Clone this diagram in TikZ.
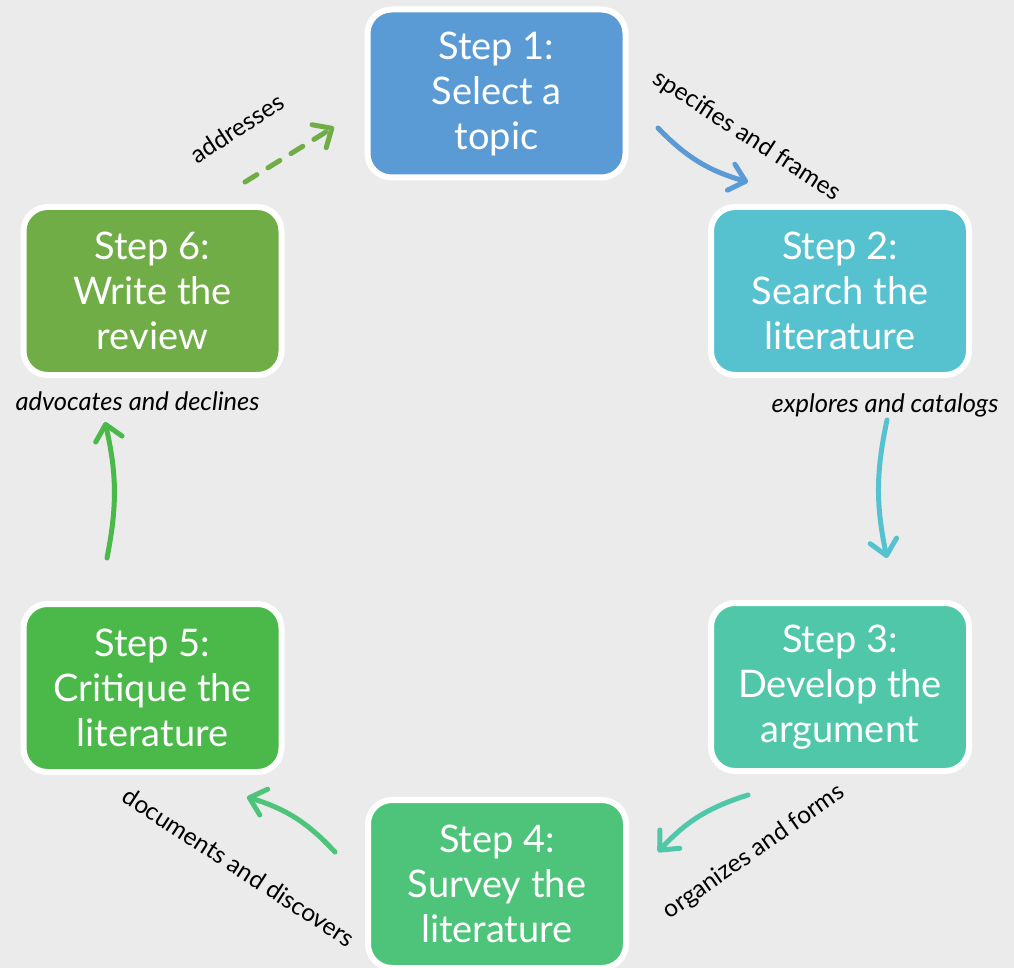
\documentclass[tikz,border=0pt]{standalone}
\usepackage{fontspec}
\setmainfont{Lato}
\usetikzlibrary{arrows.meta}
\definecolor{bg}{HTML}{EBEBEB}
\definecolor{cA}{HTML}{5B9BD5}
\definecolor{cB}{HTML}{56C2CF}
\definecolor{cC}{HTML}{51C7A9}
\definecolor{cD}{HTML}{4DC47A}
\definecolor{cE}{HTML}{4BB94A}
\definecolor{cF}{HTML}{70AD47}
\begin{document}
\begin{tikzpicture}[x=1pt,y=-1pt,
 stepbox/.style={draw=white, line width=6pt, rounded corners=24pt, minimum width=258pt, minimum height=168pt, align=center, text=white, font=\fontsize{38}{45}\selectfont, inner sep=0pt},
 flow/.style={line width=5pt, line cap=round, -{Straight Barb[length=15pt,width=27pt,line cap=round,line join=round]}},
 lab/.style={font=\fontsize{25.5}{30}\selectfont\itshape, text=black, inner sep=0pt},
 rlab/.style={font=\fontsize{24.5}{29}\selectfont, text=black, inner sep=0pt}]
\fill[bg] (0,0) rectangle (1014,968);
\useasboundingbox (0,0) rectangle (1014,968);

\node[stepbox, fill=cA] (s1) at (496.5,93.5) {Step 1:\\Select a\\topic};
\node[stepbox, fill=cB] (s2) at (840,291) {Step 2:\\Search the\\literature};
\node[stepbox, fill=cC] (s3) at (840,687) {Step 3:\\Develop the\\argument};
\node[stepbox, fill=cD] (s4) at (497,884) {Step 4:\\Survey the\\literature};
\node[stepbox, fill=cE] (s5) at (152.5,688) {Step 5:\\Critique the\\literature};
\node[stepbox, fill=cF] (s6) at (152.5,291) {Step 6:\\Write the\\review};

\coordinate (a1s) at (658,128); \coordinate (a1e) at (748,182);
\coordinate (a2s) at (887,420); \coordinate (a2e) at (887,558);
\coordinate (a3s) at (748,795); \coordinate (a3e) at (658,852);
\coordinate (a4s) at (335,852); \coordinate (a4e) at (247,797);
\coordinate (a5s) at (107,558); \coordinate (a5e) at (105,422);
\coordinate (a6s) at (245,182); \coordinate (a6e) at (334,127);

\draw[flow, cA] (a1s) to[bend right=15] (a1e);
\draw[flow, cB] (a2s) to[bend right=12] (a2e);
\draw[flow, cC] (a3s) to[bend right=15] (a3e);
\draw[flow, cD] (a4s) to[bend right=15] (a4e);
\draw[flow, cE] (a5s) to[bend right=12] (a5e);
\draw[flow, cF, dash pattern=on 14pt off 13pt] (a6s) -- (a6e);

\node[rlab, rotate=-33] (l1) at (747,136) {specifies and frames};
\node[lab, anchor=base] (l2) at (885,412) {explores and catalogs};
\node[rlab, rotate=35] (l3) at (754,852) {organizes and forms};
\node[rlab, rotate=-33] (l4) at (239,867) {documents and discovers};
\node[lab, anchor=base] (l5) at (137.5,410) {advocates and declines};
\node[rlab, rotate=33] (l6) at (237,128) {addresses};
\end{tikzpicture}
\end{document}
